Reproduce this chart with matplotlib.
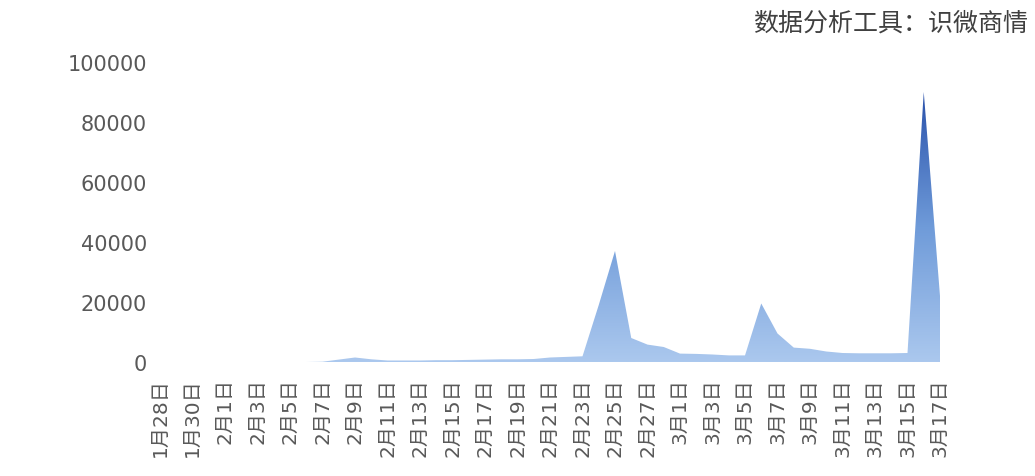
import numpy as np
import matplotlib
matplotlib.use("Agg")
import matplotlib.pyplot as plt
from matplotlib.colors import LinearSegmentedColormap

plt.rcParams['font.family'] = ['DejaVu Sans', 'Noto Sans CJK SC']

# 日期：1月28日 - 3月17日
fechas = (["1月%d日" % d for d in range(28, 32)] +
          ["2月%d日" % d for d in range(1, 29)] +
          ["3月%d日" % d for d in range(1, 18)])

valores = [0, 0, 0, 0, 0, 0, 0, 0, 0, 0,
           100, 800, 1500, 900, 500, 500, 500, 600, 600, 700,
           800, 900, 900, 1000, 1500, 1700, 1900, 19000, 37000, 8000,
           5800, 5000,
           2800, 2700, 2500, 2200, 2200, 19500, 9500, 4800, 4400, 3500,
           3000, 2900, 2900, 2900, 3000, 90000, 22000]

yticks = [0, 20000, 40000, 60000, 80000, 100000]

x = np.arange(len(fechas))
y = np.array(valores)

fig = plt.figure(figsize=(10.35, 4.77), dpi=100)
ax = fig.add_axes([150 / 1035, 1 - 363 / 477, 810 / 1035, 313 / 477])

# relleno con degradado
poly = ax.fill_between(x, y, 0, color='none', lw=0)
cmap = LinearSegmentedColormap.from_list('azul', ['#abc8ee', '#6f9bd9', '#2a52ab'])
grad = np.linspace(0, 1, 256).reshape(-1, 1)
img = ax.imshow(grad, cmap=cmap, origin='lower', aspect='auto',
                extent=[x[0], x[-1], 0, y.max()], zorder=2)
img.set_clip_path(poly.get_paths()[0], transform=ax.transData)

ax.set_xlim(-10 / 16.25, 48 + 20 / 16.25)
ax.set_ylim(0, (363 - 50) / 3 * 1000)

ax.set_yticks(yticks)
ax.set_yticklabels([str(v) for v in yticks], fontsize=15, color='#595959')
ax.set_xticks(x[::2])
ax.set_xticklabels(fechas[::2], rotation=90, fontsize=14.5, color='#595959')
ax.tick_params(axis='both', length=0)
ax.tick_params(axis='y', pad=2)
ax.tick_params(axis='x', pad=11)
for s in ax.spines.values():
    s.set_visible(False)

fig.text(1028 / 1035, 1 - 24 / 477, "数据分析工具：识微商情", ha='right', va='center',
         fontsize=18, color='#404040', family=['Noto Sans CJK SC', 'DejaVu Sans'])

fig.savefig("out.png", dpi=100)
